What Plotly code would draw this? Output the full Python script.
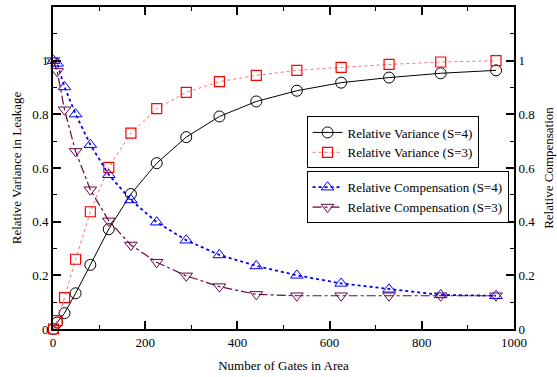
import plotly.graph_objects as go

gates = [1, 9, 25, 49, 81, 121, 169, 225, 289, 361, 441, 529, 625, 729, 841, 961]
var_s4 = [0.0, 0.024, 0.059, 0.133, 0.239, 0.372, 0.503, 0.618, 0.715, 0.792, 0.848, 0.888, 0.918, 0.937, 0.953, 0.964]
var_s3 = [0.0, 0.031, 0.117, 0.26, 0.437, 0.602, 0.73, 0.821, 0.882, 0.922, 0.945, 0.964, 0.975, 0.986, 0.995, 1.0]
comp_s4 = [1.0, 0.99, 0.902, 0.801, 0.687, 0.575, 0.481, 0.398, 0.331, 0.276, 0.235, 0.2, 0.17, 0.148, 0.127, 0.124]
comp_s3 = [1.0, 0.96, 0.817, 0.662, 0.519, 0.403, 0.313, 0.249, 0.198, 0.158, 0.129, 0.124, 0.124, 0.124, 0.124, 0.124]

y_ticks = [0, 0.2, 0.4, 0.6, 0.8, 1.0, 1.2]
y_ticktext = ["0", "0.2", "0.4", "0.6", "0.8", "1", ""]
x_ticks = [0, 200, 400, 600, 800, 1000]

FONT = "Times New Roman, Liberation Serif, DejaVu Serif, serif"
MAROON = "#670748"

fig = go.Figure()
fig.add_trace(go.Scatter(
    x=gates, y=var_s4, name="Relative Variance (S=4)", mode="lines+markers",
    line=dict(color="black", width=1),
    marker=dict(symbol="circle-open", size=11, color="black", line=dict(width=1)),
    cliponaxis=False, legend="legend"))
fig.add_trace(go.Scatter(
    x=gates, y=var_s3, name="Relative Variance (S=3)", mode="lines+markers",
    line=dict(color="#ff7070", width=1, dash="dot"),
    marker=dict(symbol="square-open", size=10, color="#ff0000", line=dict(width=1.2)),
    cliponaxis=False, legend="legend"))
fig.add_trace(go.Scatter(
    x=gates, y=comp_s4, name="Relative Compensation (S=4)", mode="lines+markers",
    line=dict(color="#0000ff", width=1.8, dash="dot"),
    marker=dict(symbol="triangle-up-open", size=11, color="#0000ff", line=dict(width=1)),
    cliponaxis=False, yaxis="y2", legend="legend2"))
fig.add_trace(go.Scatter(
    x=gates, y=comp_s3, name="Relative Compensation (S=3)", mode="lines+markers",
    line=dict(color=MAROON, width=1.2, dash="dashdot"),
    marker=dict(symbol="triangle-down-open", size=11, color=MAROON, line=dict(width=1)),
    cliponaxis=False, yaxis="y2", legend="legend2"))

axis_common = dict(showgrid=False, zeroline=False, ticks="inside", linecolor="black",
                   linewidth=2, tickcolor="black", tickwidth=1.5, ticklen=8, automargin=False,
                   tickfont=dict(family=FONT, size=13, color="black"))

fig.update_layout(
    width=557, height=377,
    margin=dict(l=53, r=43, t=7, b=48),
    paper_bgcolor="white", plot_bgcolor="white",
    font=dict(family=FONT, size=12, color="black"),
    showlegend=True,
    xaxis=dict(range=[0, 1000], tickvals=x_ticks, mirror="ticks", showline=True,
               minor=dict(dtick=100, ticklen=4, ticks="inside", tickcolor="black", tickwidth=1),
               title=dict(text="Number of Gates in Area", font=dict(family=FONT, size=13), standoff=12),
               **axis_common),
    yaxis=dict(range=[0, 1.2], tickvals=y_ticks, ticktext=y_ticktext, showline=True, mirror=True,
               minor=dict(dtick=0.1, ticklen=4, ticks="inside", tickcolor="black", tickwidth=1),
               title=dict(text="Relative Variance in Leakage", font=dict(family=FONT, size=13), standoff=8),
               **axis_common),
    yaxis2=dict(range=[0, 1.2], tickvals=y_ticks, ticktext=y_ticktext, overlaying="y", side="right",
                showline=True,
                minor=dict(dtick=0.1, ticklen=4, ticks="inside", tickcolor="black", tickwidth=1),
                title=dict(text="Relative Compensation", font=dict(family=FONT, size=13), standoff=10),
                **axis_common),
    legend=dict(x=0.55, y=0.66, xanchor="left", yanchor="top", bordercolor="black",
                borderwidth=1, bgcolor="white", font=dict(family=FONT, size=13),
                tracegroupgap=0, itemwidth=30),
    legend2=dict(x=0.55, y=0.49, xanchor="left", yanchor="top", bordercolor="black",
                 borderwidth=1, bgcolor="white", font=dict(family=FONT, size=13),
                 tracegroupgap=0, itemwidth=30),
)

fig.write_html("out.html", config={"displayModeBar": False},
               post_script="document.body.style.margin='0';document.body.style.padding='0';")
